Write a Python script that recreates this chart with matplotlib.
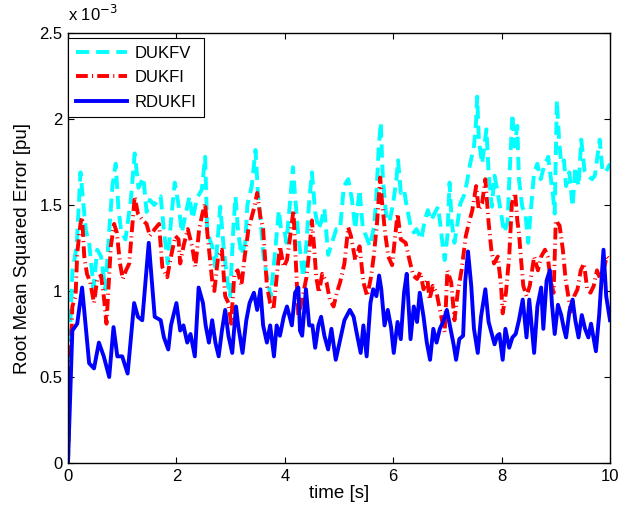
import matplotlib
matplotlib.use("Agg")
import matplotlib.pyplot as plt
import numpy as np

plt.rcParams['font.family'] = ['Liberation Sans', 'DejaVu Sans']
plt.rcParams['lines.scale_dashes'] = False

# values in units of 1e-3
t_dukfv = [0, 0.03, 0.08, 0.16, 0.23, 0.33, 0.39, 0.47, 0.54, 0.61, 0.69, 0.76, 0.82, 0.88, 0.93, 0.98,
           1.06, 1.16, 1.23, 1.3, 1.39, 1.45, 1.51, 1.59, 1.71, 1.77, 1.84, 1.9, 1.97, 2.04, 2.1, 2.16,
           2.24, 2.3, 2.38, 2.47, 2.53, 2.57, 2.66, 2.72, 2.81, 2.87, 2.93, 2.99, 3.05, 3.09, 3.14, 3.2,
           3.27, 3.31, 3.39, 3.46, 3.5, 3.55, 3.61, 3.69, 3.74, 3.81, 3.89, 3.93, 3.99, 4.03, 4.1, 4.15,
           4.19, 4.25, 4.34, 4.4, 4.44, 4.5, 4.56, 4.62, 4.67, 4.73, 4.8, 4.87, 4.95, 5.02, 5.09, 5.17,
           5.24, 5.3, 5.38, 5.44, 5.5, 5.57, 5.65, 5.69, 5.73, 5.77, 5.81, 5.87, 5.93, 6.0, 6.06, 6.09,
           6.14, 6.2, 6.24, 6.32, 6.38, 6.43, 6.52, 6.58, 6.64, 6.7, 6.76, 6.83, 6.9, 6.95, 7.0, 7.04,
           7.08, 7.13, 7.19, 7.24, 7.3, 7.36, 7.42, 7.49, 7.53, 7.55, 7.58, 7.64, 7.72, 7.76, 7.82, 7.87,
           7.93, 7.99, 8.05, 8.11, 8.15, 8.2, 8.24, 8.29, 8.32, 8.38, 8.44, 8.49, 8.54, 8.6, 8.66, 8.72,
           8.78, 8.86, 8.91, 8.95, 8.98, 9.02, 9.06, 9.1, 9.15, 9.19, 9.25, 9.31, 9.36, 9.42, 9.47, 9.53,
           9.59, 9.67, 9.72, 9.81, 9.86, 9.92, 10.0]
v_dukfv = [0, 0.7, 1.11, 1.26, 1.69, 1.35, 1.28, 1.02, 1.24, 1.2, 1.01, 1.35, 1.61, 1.74, 1.48, 1.35,
           1.30, 1.53, 1.80, 1.60, 1.66, 1.46, 1.53, 1.50, 1.55, 1.35, 1.16, 1.41, 1.63, 1.50, 1.34, 1.43,
           1.55, 1.42, 1.54, 1.59, 1.78, 1.34, 1.26, 1.14, 1.49, 1.26, 1.08, 0.97, 1.36, 1.55, 1.34, 1.21,
           1.28, 1.50, 1.61, 1.82, 1.59, 1.42, 1.19, 1.05, 0.97, 1.19, 1.47, 1.36, 1.36, 1.28, 1.53, 1.72,
           1.55, 1.32, 1.08, 1.28, 1.48, 1.69, 1.46, 1.36, 1.40, 1.48, 1.21, 1.28, 1.36, 1.36, 1.61, 1.65,
           1.53, 1.36, 1.59, 1.36, 1.32, 1.26, 1.38, 1.55, 1.82, 1.98, 1.65, 1.44, 1.40, 1.51, 1.65, 1.76,
           1.57, 1.59, 1.51, 1.38, 1.34, 1.36, 1.30, 1.41, 1.47, 1.41, 1.45, 1.49, 1.30, 1.18, 1.32, 1.63,
           1.40, 1.28, 1.40, 1.51, 1.55, 1.63, 1.74, 1.84, 1.99, 2.13, 1.88, 1.74, 1.94, 1.69, 1.49, 1.67,
           1.57, 1.45, 1.34, 1.40, 1.70, 2.03, 1.84, 1.96, 1.65, 1.49, 1.45, 1.28, 1.47, 1.69, 1.74, 1.65,
           1.72, 1.78, 1.65, 1.55, 1.45, 2.11, 1.88, 1.74, 1.76, 1.61, 1.69, 1.49, 1.72, 1.61, 1.88, 1.70,
           1.67, 1.65, 1.67, 1.88, 1.70, 1.69, 1.74]

t_dukfi = [0, 0.02, 0.08, 0.14, 0.17, 0.23, 0.26, 0.3, 0.35, 0.41, 0.48, 0.54, 0.61, 0.66, 0.71, 0.79,
           0.85, 0.9, 0.96, 1.01, 1.07, 1.13, 1.23, 1.29, 1.38, 1.45, 1.51, 1.6, 1.68, 1.74, 1.83, 1.9,
           1.98, 2.04, 2.07, 2.13, 2.21, 2.29, 2.35, 2.42, 2.48, 2.53, 2.57, 2.66, 2.7, 2.77, 2.84, 2.9,
           2.96, 3.01, 3.07, 3.13, 3.2, 3.26, 3.33, 3.39, 3.44, 3.49, 3.55, 3.6, 3.67, 3.73, 3.79, 3.85,
           3.91, 3.98, 4.04, 4.1, 4.16, 4.21, 4.25, 4.33, 4.4, 4.46, 4.5, 4.54, 4.58, 4.63, 4.69, 4.77,
           4.83, 4.9, 4.96, 5.02, 5.1, 5.17, 5.22, 5.3, 5.38, 5.45, 5.52, 5.59, 5.64, 5.7, 5.76, 5.79,
           5.85, 5.91, 5.98, 6.03, 6.08, 6.14, 6.23, 6.3, 6.37, 6.44, 6.5, 6.56, 6.63, 6.67, 6.73, 6.8,
           6.9, 6.95, 7.0, 7.07, 7.13, 7.19, 7.26, 7.34, 7.4, 7.46, 7.53, 7.58, 7.64, 7.7, 7.76, 7.81,
           7.86, 7.93, 7.99, 8.02, 8.08, 8.14, 8.19, 8.25, 8.29, 8.32, 8.36, 8.4, 8.46, 8.52, 8.6, 8.67,
           8.73, 8.8, 8.85, 8.91, 8.96, 9.0, 9.07, 9.13, 9.18, 9.23, 9.28, 9.34, 9.4, 9.46, 9.52, 9.58,
           9.64, 9.7, 9.76, 9.82, 9.88, 9.94, 10.0]
v_dukfi = [0, 0.3, 0.91, 0.97, 1.22, 1.39, 1.43, 1.20, 1.10, 1.05, 0.93, 1.07, 1.09, 0.97, 0.81, 1.26,
           1.39, 1.34, 1.16, 1.07, 1.12, 1.16, 1.55, 1.45, 1.41, 1.39, 1.32, 1.36, 1.39, 1.14, 1.08, 1.20,
           1.32, 1.30, 1.16, 1.26, 1.36, 1.26, 1.14, 1.36, 1.45, 1.51, 1.34, 1.06, 1.00, 1.20, 1.24, 0.97,
           0.93, 0.81, 1.10, 1.12, 1.03, 1.20, 1.36, 1.43, 1.49, 1.57, 1.43, 1.36, 1.03, 0.93, 0.89, 1.08,
           1.26, 1.14, 1.18, 1.32, 1.47, 1.12, 0.85, 0.97, 1.08, 1.26, 1.41, 1.26, 1.08, 0.99, 1.10, 1.05,
           0.95, 0.91, 0.99, 1.05, 1.16, 1.37, 1.32, 1.18, 1.26, 1.05, 0.97, 1.08, 1.20, 1.39, 1.66, 1.53,
           1.34, 1.20, 1.15, 1.30, 1.45, 1.30, 1.28, 1.18, 1.09, 1.07, 1.11, 1.01, 1.07, 0.95, 1.03, 0.99,
           0.83, 0.76, 1.12, 1.05, 0.83, 0.99, 1.12, 1.32, 1.40, 1.47, 1.61, 1.47, 1.51, 1.65, 1.40, 1.24,
           1.16, 1.20, 1.03, 0.87, 0.99, 1.20, 1.51, 1.57, 1.41, 1.34, 1.18, 1.03, 0.97, 1.03, 1.20, 1.12,
           1.20, 1.24, 1.20, 1.05, 0.99, 1.41, 1.38, 1.24, 1.07, 0.97, 0.88, 0.97, 1.01, 1.12, 1.16, 1.01,
           0.99, 1.03, 1.12, 1.07, 1.12, 1.20, 1.18]

t_rdukfi = [0, 0.08, 0.17, 0.26, 0.39, 0.48, 0.57, 0.66, 0.76, 0.84, 0.91, 1.0, 1.1, 1.22, 1.29, 1.37,
            1.49, 1.6, 1.71, 1.77, 1.85, 1.9, 2.0, 2.07, 2.13, 2.2, 2.26, 2.34, 2.41, 2.49, 2.54, 2.6,
            2.66, 2.72, 2.78, 2.84, 2.9, 2.96, 3.03, 3.1, 3.14, 3.22, 3.29, 3.35, 3.43, 3.49, 3.55, 3.6,
            3.67, 3.73, 3.8, 3.85, 3.91, 3.98, 4.04, 4.13, 4.19, 4.25, 4.28, 4.32, 4.39, 4.45, 4.51, 4.56,
            4.62, 4.67, 4.73, 4.8, 4.86, 4.94, 5.01, 5.1, 5.2, 5.27, 5.33, 5.4, 5.45, 5.51, 5.58, 5.63,
            5.69, 5.74, 5.78, 5.84, 5.9, 5.96, 6.01, 6.08, 6.14, 6.2, 6.25, 6.32, 6.38, 6.44, 6.49, 6.56,
            6.62, 6.68, 6.74, 6.8, 6.86, 6.92, 6.99, 7.04, 7.12, 7.16, 7.22, 7.29, 7.33, 7.38, 7.44, 7.49,
            7.56, 7.62, 7.7, 7.76, 7.81, 7.87, 7.92, 7.96, 8.02, 8.07, 8.14, 8.2, 8.26, 8.32, 8.39, 8.46,
            8.51, 8.6, 8.66, 8.73, 8.77, 8.83, 8.89, 8.93, 8.98, 9.04, 9.1, 9.15, 9.19, 9.25, 9.31, 9.36,
            9.42, 9.48, 9.54, 9.6, 9.65, 9.74, 9.8, 9.88, 9.93, 10.0]
v_rdukfi = [0, 0.77, 0.81, 1.02, 0.58, 0.55, 0.70, 0.62, 0.50, 0.79, 0.62, 0.62, 0.52, 0.93, 0.85, 0.83,
            1.28, 0.85, 0.83, 0.73, 0.66, 0.80, 0.93, 0.77, 0.80, 0.70, 0.75, 0.62, 1.02, 0.93, 0.80, 0.70,
            0.83, 0.70, 0.62, 0.77, 0.89, 0.74, 0.64, 0.91, 0.80, 0.64, 0.83, 0.93, 0.99, 0.89, 1.01, 0.80,
            0.70, 0.80, 0.62, 0.80, 0.74, 0.85, 0.91, 0.80, 0.99, 1.02, 0.77, 0.74, 1.01, 0.80, 0.80, 0.67,
            0.80, 0.85, 0.74, 0.66, 0.78, 0.60, 0.70, 0.83, 0.89, 0.85, 0.75, 0.64, 0.80, 0.62, 0.93, 1.01,
            0.97, 1.09, 1.01, 0.80, 0.89, 0.79, 0.64, 0.82, 0.72, 0.99, 1.10, 0.72, 0.91, 0.82, 0.99, 0.85,
            0.70, 0.60, 0.78, 0.70, 0.78, 0.82, 0.89, 0.81, 0.68, 0.60, 0.72, 0.74, 1.06, 1.23, 1.03, 0.78,
            0.64, 0.85, 1.01, 0.82, 0.76, 0.69, 0.74, 0.75, 0.60, 0.78, 0.67, 0.73, 0.75, 0.83, 0.95, 0.73,
            0.95, 0.64, 0.91, 1.02, 0.78, 1.06, 1.12, 0.92, 0.75, 0.92, 0.86, 0.78, 0.73, 0.88, 0.95, 0.83,
            0.73, 0.86, 0.78, 0.73, 0.81, 0.65, 0.86, 1.24, 0.97, 0.83]

W, H = 619, 514
fig = plt.figure(figsize=(W / 100, H / 100), dpi=100)
ax = fig.add_axes([68 / W, 1 - 463 / H, (610 - 68) / W, (463 - 33) / H])

ax.plot(t_dukfv, np.array(v_dukfv), color=(0, 1, 1), lw=2.8,
        dashes=(9.5, 5.0), label='DUKFV')
ax.plot(t_dukfi, np.array(v_dukfi), color=(1, 0, 0), lw=2.8,
        dashes=(8.5, 3.0, 0.8, 3.0), label='DUKFI')
ax.plot(t_rdukfi, np.array(v_rdukfi), color=(0, 0, 1), lw=2.8,
        solid_joinstyle='round', label='RDUKFI')

ax.set_xlim(0, 10)
ax.set_ylim(0, 2.5)
ax.set_xticks([0, 2, 4, 6, 8, 10])
ax.set_yticks([0, 0.5, 1, 1.5, 2, 2.5])
ax.set_yticklabels(['0', '0.5', '1', '1.5', '2', '2.5'])
ax.tick_params(direction='in', top=True, right=True, labelsize=12, length=4, width=0.8, pad=4)
for s in ax.spines.values():
    s.set_linewidth(1.0)

ax.set_xlabel('time [s]', fontsize=13.5, labelpad=1)
ax.set_ylabel('Root Mean Squared Error [pu]', fontsize=13.5, labelpad=6)
ax.text(0.0, 1.02, r'x 10$^{-3}$', transform=ax.transAxes, fontsize=12,
        ha='left', va='bottom')

leg = ax.legend(loc='upper left', bbox_to_anchor=(0.0, 1 - 5 / 430), fontsize=12,
                frameon=True, fancybox=False, edgecolor='black', framealpha=1,
                borderaxespad=0.0, handlelength=3.1, labelspacing=0.58,
                borderpad=0.45, handletextpad=0.45)
leg.get_frame().set_linewidth(0.8)

fig.savefig('out.png', dpi=100)
